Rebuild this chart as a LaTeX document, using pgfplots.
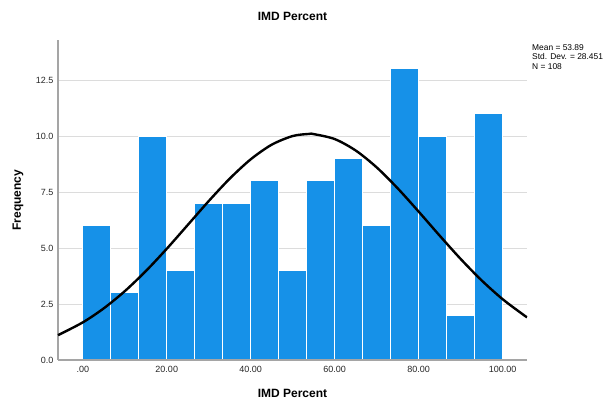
\documentclass[border=0pt]{standalone}
\usepackage{pgfplots}
\pgfplotsset{compat=1.18}
\usepackage{fontspec}
\setmainfont{Liberation Sans}
\definecolor{barblue}{RGB}{22,145,232}
\definecolor{axisgray}{RGB}{165,165,165}
\definecolor{gridgray}{RGB}{220,220,220}
\begin{document}
\begin{tikzpicture}
\begin{axis}[
  scale only axis, width=469pt, height=320pt,
  xmin=-5.9, xmax=105.8, ymin=0, ymax=14.29,
  axis x line*=bottom, axis y line*=left,
  axis line style={draw=axisgray, line width=1.2pt},
  ymajorgrids, grid style={draw=gridgray, line width=1pt},
  major tick length=0pt,
  xtick={0,20,40,60,80,100},
  xticklabels={.00,20.00,40.00,60.00,80.00,100.00},
  ytick={0,2.5,5,7.5,10,12.5},
  yticklabels={0.0,2.5,5.0,7.5,10.0,12.5},
  tick label style={font=\fontsize{9}{10}\selectfont, text=black!85},
  xticklabel style={yshift=-3pt},
  yticklabel style={xshift=-1pt},
  title={\textbf{IMD Percent}},
  title style={at={(axis description cs:0.5,1)}, anchor=base, yshift=13pt, font=\fontsize{12}{14}\selectfont},
  xlabel={\textbf{IMD Percent}},
  xlabel style={at={(axis description cs:0.5,0)}, anchor=center, yshift=-33pt, font=\fontsize{12}{14}\selectfont},
  ylabel={\textbf{Frequency}},
  ylabel style={at={(axis description cs:-0.0853,0.5)}, anchor=center, font=\fontsize{12}{14}\selectfont},
  clip=false,
]
\addplot[ybar interval, fill=barblue, draw=white, line width=1.2pt] coordinates {
 (0,6) (6.667,3) (13.333,10) (20,4) (26.667,7) (33.333,7) (40,8) (46.667,4)
 (53.333,8) (60,9) (66.667,6) (73.333,13) (80,10) (86.667,2) (93.333,11) (100,11)
};
\draw[axisgray, line width=1.2pt] (rel axis cs:0,0) -- (rel axis cs:1,0);
\addplot[smooth, black, line width=2.4pt] coordinates {
 (-5.9,1.109) (0,1.679) (5,2.307) (10,3.072) (15,3.967) (20,4.967) (25,6.030)
 (30,7.097) (35,8.099) (40,8.962) (45,9.615) (50,10.002) (53.89,10.096)
 (55,10.088) (60,9.866) (65,9.355) (70,8.601) (75,7.666) (80,6.626) (85,5.553)
 (90,4.512) (95,3.554) (100,2.715) (105,2.011) (105.8,1.911)
};
\node[anchor=north west, align=left, inner sep=0pt, font=\fontsize{8.4}{9.6}\selectfont]
  at (rel axis cs:1.0107,0.987) {Mean = 53.89\\Std. Dev. = 28.451\\N = 108};
\end{axis}
\path[use as bounding box] (-58pt,-41pt) rectangle (547pt,360pt);
\end{tikzpicture}
\end{document}
